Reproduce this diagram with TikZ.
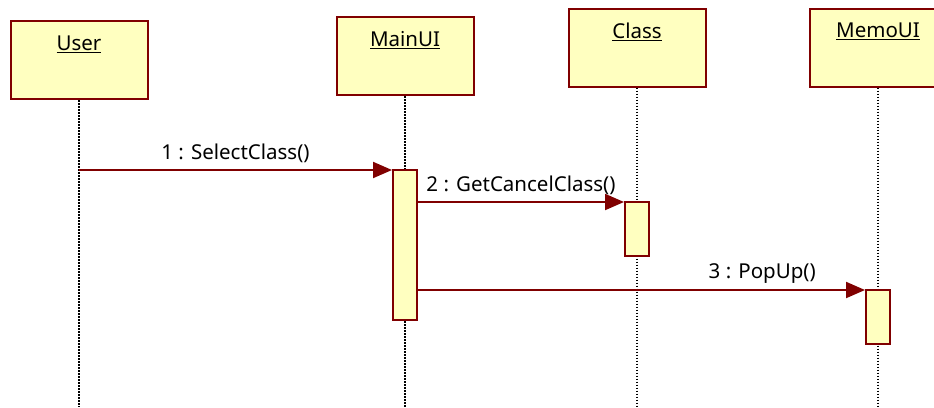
\documentclass[tikz,border=0pt]{standalone}
\usepackage{fontspec}
\setmainfont{Noto Sans}
\usetikzlibrary{arrows.meta}
\definecolor{umlred}{RGB}{128,0,0}
\definecolor{umlfill}{RGB}{255,255,192}

\begin{document}
\begin{tikzpicture}[x=1pt, y=-1pt,
    every node/.style={font=\fontsize{20.5}{24}\selectfont},
    obj/.style={draw=umlred, fill=umlfill, line width=2pt,
                minimum width=137pt, minimum height=78pt, inner sep=0pt},
    act/.style={draw=umlred, fill=umlfill, line width=2pt,
                minimum width=24pt, inner sep=0pt},
    life/.style={line width=1.5pt, dash pattern=on 1.5pt off 1.5pt},
    msg/.style={draw=umlred, line width=2pt,
                -{Triangle[length=19pt, width=16pt]}}]
    \useasboundingbox (0,0) rectangle (934,407);

    \node[obj] (user)   at (79,60)    {};
    \node[obj] (mainui) at (405,56)   {};
    \node[obj] (class)  at (637,47.5) {};
    \node[obj] (memoui) at (878,47.5) {};

    \foreach \o/\t in {user/User, mainui/MainUI, class/Class, memoui/MemoUI} {
        \node (\o txt) at ([yshift=-24pt]\o.north) {\underline{\t}};
        \coordinate (\o end) at (\o.south |- 0,407);
        \draw[life] (\o.south) -- (\o end);
    }

    \node[act, minimum height=150pt, anchor=north] (act1) at (mainui.south |- 0,169) {};
    \node[act, minimum height=54pt,  anchor=north] (act2) at (class.south |- 0,201)  {};
    \node[act, minimum height=54pt,  anchor=north] (act3) at (memoui.south |- 0,289) {};

    \coordinate (m1) at (user.south |- 0,170);
    \coordinate (m2) at (act1.east |- 0,202);
    \coordinate (m3) at (act1.east |- 0,290);

    \draw[msg] (m1) -- node[above=2.5pt] (lbl1) {1 : SelectClass()} (m1 -| act1.west);
    \draw[msg] (m2) -- node[above=2.5pt] (lbl2) {2 : GetCancelClass()} (m2 -| act2.west);
    \draw[msg] (m3) -- node[above=2.5pt, pos=0.77] (lbl3) {3 : PopUp()} (m3 -| act3.west);
\end{tikzpicture}
\end{document}
